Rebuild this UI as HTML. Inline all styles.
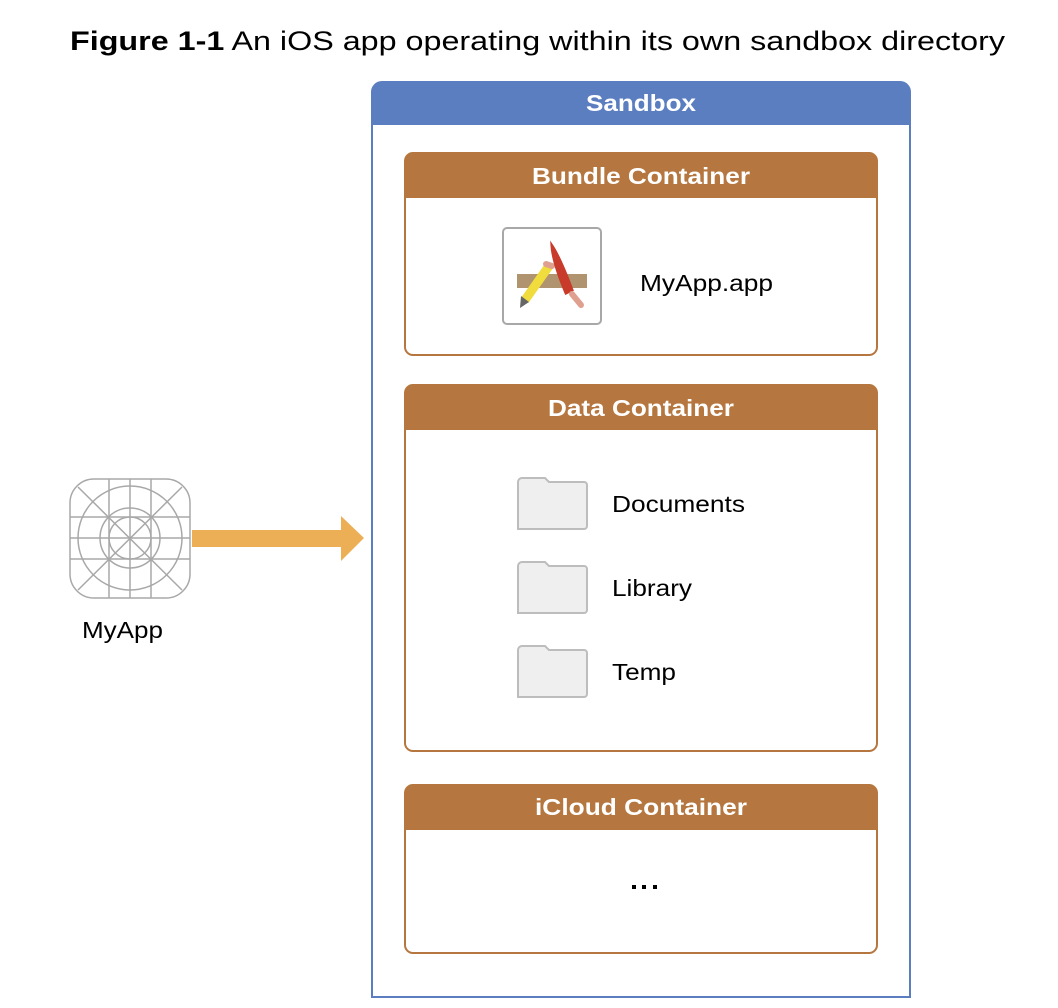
<!DOCTYPE html>
<html><head><meta charset="utf-8"><style>
html,body{margin:0;padding:0;background:#fff;}
svg{display:block;}
</style></head><body>
<svg width="1058" height="1008" viewBox="0 0 1058 1008" xmlns="http://www.w3.org/2000/svg" font-family="Liberation Sans, sans-serif">
<text x="70" y="50" font-size="27" textLength="935" lengthAdjust="spacingAndGlyphs" fill="#000"><tspan font-weight="bold">Figure 1-1</tspan>  An iOS app operating within its own sandbox directory</text>

<path d="M372,997 V92 a10,10 0 0 1 10,-10 H900 a10,10 0 0 1 10,10 V997 Z" fill="#fff" stroke="#5a7ec0" stroke-width="2"/>
<path d="M372,125 V92 a10,10 0 0 1 10,-10 H900 a10,10 0 0 1 10,10 V125 Z" fill="#5a7ec0"/>
<text x="586" y="111" font-size="23" font-weight="bold" fill="#fff" textLength="110" lengthAdjust="spacingAndGlyphs">Sandbox</text>

<rect x="405" y="153" width="472" height="202" rx="8" fill="#fff" stroke="#b5773f" stroke-width="2"/>
<path d="M405,198 V161 a8,8 0 0 1 8,-8 H869 a8,8 0 0 1 8,8 V198 Z" fill="#b5773f"/>
<text x="532" y="184" font-size="23" font-weight="bold" fill="#fff" textLength="218" lengthAdjust="spacingAndGlyphs">Bundle Container</text>
<rect x="503" y="228" width="98" height="96" rx="4" fill="#fff" stroke="#a8a8a8" stroke-width="2"/>
<rect x="517" y="274" width="70" height="14" fill="#b09470"/>
<line x1="549" y1="266" x2="525" y2="300" stroke="#f0dc3c" stroke-width="9"/>
<polygon points="521,296 529,302 520,308" fill="#666"/>
<line x1="546" y1="264" x2="552" y2="266" stroke="#e0a090" stroke-width="6" stroke-linecap="round"/>
<path d="M552,246 Q560,258 572,290 L566,293 Q553,262 552,246 Z" fill="#c83a2a" stroke="#c83a2a" stroke-width="3"/>
<line x1="572" y1="294" x2="581" y2="305" stroke="#e0a090" stroke-width="6" stroke-linecap="round"/>
<text x="640" y="291" font-size="23" fill="#000" textLength="133" lengthAdjust="spacingAndGlyphs">MyApp.app</text>

<rect x="405" y="385" width="472" height="366" rx="8" fill="#fff" stroke="#b5773f" stroke-width="2"/>
<path d="M405,430 V393 a8,8 0 0 1 8,-8 H869 a8,8 0 0 1 8,8 V430 Z" fill="#b5773f"/>
<text x="548" y="416" font-size="23" font-weight="bold" fill="#fff" textLength="186" lengthAdjust="spacingAndGlyphs">Data Container</text>
<g fill="#efefef" stroke="#bdbdbd" stroke-width="2">
<path d="M518,529 V482 a4,4 0 0 1 4,-4 H545 l4,4 H584 a3,3 0 0 1 3,3 V526 a3,3 0 0 1 -3,3 Z"/>
<path d="M518,613 V566 a4,4 0 0 1 4,-4 H545 l4,4 H584 a3,3 0 0 1 3,3 V610 a3,3 0 0 1 -3,3 Z"/>
<path d="M518,697 V650 a4,4 0 0 1 4,-4 H545 l4,4 H584 a3,3 0 0 1 3,3 V694 a3,3 0 0 1 -3,3 Z"/>
</g>
<text x="612" y="512" font-size="23" fill="#000" textLength="133" lengthAdjust="spacingAndGlyphs">Documents</text>
<text x="612" y="596" font-size="23" fill="#000" textLength="80" lengthAdjust="spacingAndGlyphs">Library</text>
<text x="612" y="680" font-size="23" fill="#000" textLength="64" lengthAdjust="spacingAndGlyphs">Temp</text>

<rect x="405" y="785" width="472" height="168" rx="8" fill="#fff" stroke="#b5773f" stroke-width="2"/>
<path d="M405,830 V793 a8,8 0 0 1 8,-8 H869 a8,8 0 0 1 8,8 V830 Z" fill="#b5773f"/>
<text x="535" y="815" font-size="23" font-weight="bold" fill="#fff" textLength="212" lengthAdjust="spacingAndGlyphs">iCloud Container</text>
<rect x="632" y="885" width="4" height="4" fill="#000"/><rect x="642" y="885" width="4" height="4" fill="#000"/><rect x="653" y="885" width="4" height="4" fill="#000"/>

<g fill="none" stroke="#a8a8a8" stroke-width="1.5">
<rect x="70" y="479" width="120" height="119" rx="24"/>
<circle cx="130" cy="538" r="52"/>
<circle cx="130" cy="538" r="30"/>
<circle cx="130" cy="538" r="21"/>
<line x1="109" y1="479" x2="109" y2="598"/><line x1="130" y1="479" x2="130" y2="598"/><line x1="151" y1="479" x2="151" y2="598"/>
<line x1="70" y1="517" x2="190" y2="517"/><line x1="70" y1="538" x2="190" y2="538"/><line x1="70" y1="559" x2="190" y2="559"/>
<line x1="78" y1="487" x2="182" y2="590"/><line x1="182" y1="487" x2="78" y2="590"/>
</g>
<text x="82" y="638" font-size="23" fill="#000" textLength="81" lengthAdjust="spacingAndGlyphs">MyApp</text>

<rect x="192" y="530" width="151" height="17" fill="#ecaf55"/>
<polygon points="341,516 364,538 341,561" fill="#ecaf55"/>
</svg>
</body></html>
